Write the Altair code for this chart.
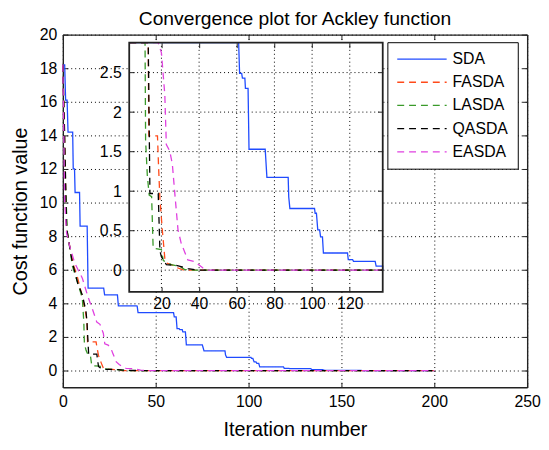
import altair as alt
import pandas as pd

FONT = "Liberation Sans"

SERIES = ["SDA", "FASDA", "LASDA", "QASDA", "EASDA"]
COLORS = ["#1f4bff", "#ff4a1a", "#3a9a2a", "#000000", "#e040e0"]
DASHES = [[1, 0], [7, 5], [7, 5], [7, 5], [7, 5]]

# ---- series (iteration, cost) ----
sda_iter = [0, 1, 1.5, 2.3, 2.8, 5.3, 5.6, 6.3, 6.6, 9.0, 9.3, 13.1, 13.6, 22, 22.5, 29.4, 29.9, 40,
            40.5, 59.6, 60, 61, 61.5, 62.6, 63, 64.3, 64.6, 66, 66.5, 75.1, 76, 87.3, 87.6, 88.2,
            101.3, 101.6, 102.3, 103, 104, 104.5, 105.5, 106, 118.8, 119.2, 121.5, 122, 133.5, 134,
            140, 141, 160, 161, 200]
sda_cost = [18.2, 18.2, 16.1, 16.1, 14.2, 14.2, 12.0, 12.0, 10.6, 10.6, 8.6, 8.6, 4.9, 4.9, 4.5, 4.5,
            3.85, 3.85, 3.45, 3.45, 3.2, 3.2, 2.49, 2.49, 2.43, 2.43, 2.3, 2.3, 1.53, 1.53, 1.175,
            1.175, 0.925, 0.78, 0.78, 0.72, 0.72, 0.51, 0.51, 0.42, 0.42, 0.217, 0.217, 0.134,
            0.134, 0.11, 0.11, 0.05, 0.05, 0.01, 0.01, 0.0, 0.0]

fasda_iter = [0, 1, 2, 4, 6, 8, 10, 12, 13, 13.3, 17.9, 18.5, 19.2, 20.5, 21.8, 22.6, 27.9, 28.5, 32, 200]
fasda_cost = [18.2, 13.5, 8.5, 7.2, 6.2, 5.5, 4.6, 3.6, 2.95, 1.7, 1.7, 1.3, 0.9, 0.5, 0.15, 0.09, 0.05,
              0.03, 0.0, 0.0]

lasda_iter = [0, 1, 2.5, 5.2, 7.8, 10.5, 11.3, 11.6, 12.5, 13.5, 14.8, 15.6, 20, 21, 25.2, 29.6, 32.2,
              35, 200]
lasda_cost = [18.2, 12.0, 8.2, 6.2, 5.3, 4.3, 2.88, 1.64, 1.2, 0.95, 0.93, 0.28, 0.26, 0.12, 0.07, 0.05,
              0.01, 0.0, 0.0]

qasda_iter = [0, 1, 2, 5, 8, 10.5, 12.5, 13, 13.9, 18.3, 19.2, 20, 22.6, 27.9, 34, 40, 200]
qasda_cost = [18.2, 14.0, 8.5, 6.5, 5.2, 4.5, 3.5, 2.88, 0.97, 0.97, 0.24, 0.17, 0.07, 0.06, 0.02, 0.0,
              0.0]

easda_iter = [0, 1, 2, 3.7, 6.4, 10.5, 13.5, 16.1, 18.3, 20, 21.8, 22.6, 24.4, 25.8, 27, 28.8, 30.5,
              34, 37.5, 41.9, 44, 200]
easda_cost = [18.2, 10.1, 8.2, 7.4, 6.4, 5.5, 4.4, 3.6, 2.88, 2.75, 2.22, 1.59, 1.51, 1.34, 1.0, 0.51,
              0.34, 0.13, 0.11, 0.03, 0.0, 0.0]

# ---- axes / tick values ----
X_TICKS = [0, 50, 100, 150, 200, 250]
Y_TICKS = [0, 2, 4, 6, 8, 10, 12, 14, 16, 18, 20]
MAIN_XLIM = [0, 250]
MAIN_YLIM = [-1, 20]
INSET_X_TICKS = [20, 40, 60, 80, 100, 120]
INSET_Y_TICKS = [0, 0.5, 1, 1.5, 2, 2.5]
INSET_XLIM = [2.9, 137.5]
INSET_YLIM = [-0.275, 2.878]

# ---- layout (pixels) ----
W, H = 470, 357
IX0, IX1 = 67.2, 323.8      # inset left / right inside plot area
IY0, IY1 = 260.4, 8.2       # inset bottom / top inside plot area

rows = []
for name, xs, ys in [("SDA", sda_iter, sda_cost), ("FASDA", fasda_iter, fasda_cost),
                     ("LASDA", lasda_iter, lasda_cost), ("QASDA", qasda_iter, qasda_cost),
                     ("EASDA", easda_iter, easda_cost)]:
    for x, y in zip(xs, ys):
        rows.append({"series": name, "iter": x, "cost": y})
df = pd.DataFrame(rows)

main_x = alt.Scale(domain=MAIN_XLIM, nice=False, zero=False)
main_y = alt.Scale(domain=MAIN_YLIM, nice=False, zero=False)
ins_x = alt.Scale(domain=INSET_XLIM, range=[IX0, IX1], nice=False, zero=False, clamp=True)
ins_y = alt.Scale(domain=INSET_YLIM, range=[IY0, IY1], nice=False, zero=False, clamp=True)

legend = alt.Legend(title=None, orient="none", legendX=328.5, legendY=7.7, symbolType="stroke",
                    symbolSize=2500, symbolStrokeWidth=1.3, clipHeight=16, rowPadding=7.5,
                    padding=9, labelOffset=5, labelFontSize=16, labelFont=FONT, labelColor="black",
                    fillColor="white", strokeColor="black", cornerRadius=0)
color = alt.Color("series:N", scale=alt.Scale(domain=SERIES, range=COLORS), sort=SERIES, legend=legend)
dash = alt.StrokeDash("series:N", scale=alt.Scale(domain=SERIES, range=DASHES), sort=SERIES,
                      legend=legend)

label_style = dict(labelFont=FONT, labelFontSize=16, labelColor="black", labelFlush=False,
                   labelOverlap=False)
title_style = dict(titleFont=FONT, titleFontSize=20, titleFontWeight="normal", titleColor="black")

main_lines = alt.Chart(df).mark_line(strokeWidth=1.3).encode(
    x=alt.X("iter:Q", scale=main_x, axis=alt.Axis(
        orient="bottom", values=X_TICKS, title="Iteration number", grid=True, gridDash=[1, 3],
        gridColor="black", gridOpacity=1, ticks=False, domain=True, domainColor="#222",
        domainWidth=1.4, labelPadding=6, titlePadding=11, **label_style, **title_style)),
    y=alt.Y("cost:Q", scale=main_y, axis=alt.Axis(
        orient="left", values=Y_TICKS, title="Cost function value", grid=True, gridDash=[1, 3],
        gridColor="black", gridOpacity=1, ticks=False, domain=True, domainColor="#222",
        domainWidth=1.4, labelPadding=6, titlePadding=9, **label_style, **title_style)),
    color=color, strokeDash=dash, detail="series:N",
)


def tick_axis(orient, offset, values, domain=False, zindex=0):
    return alt.Axis(orient=orient, offset=offset, values=values, labels=False, ticks=True,
                    tickSize=5, tickColor="#222", tickWidth=1, domain=domain, domainColor="#222",
                    domainWidth=1.4, grid=False, title=None, zindex=zindex)


def xaxis_layer(values, scale, axis):
    return alt.Chart(pd.DataFrame({"t": values})).mark_point(opacity=0).encode(
        x=alt.X("t:Q", scale=scale, axis=axis))


def yaxis_layer(values, scale, axis):
    return alt.Chart(pd.DataFrame({"t": values})).mark_point(opacity=0).encode(
        y=alt.Y("t:Q", scale=scale, axis=axis))


main_axes = [
    xaxis_layer(X_TICKS, main_x, tick_axis("top", -H, X_TICKS)),
    xaxis_layer(X_TICKS, main_x, tick_axis("bottom", -H, X_TICKS, domain=True)),
    yaxis_layer(Y_TICKS, main_y, tick_axis("right", -W, Y_TICKS)),
    yaxis_layer(Y_TICKS, main_y, tick_axis("left", -W, Y_TICKS, domain=True)),
]

box = pd.DataFrame({"x0": [INSET_XLIM[0]], "x1": [INSET_XLIM[1]],
                    "y0": [INSET_YLIM[0]], "y1": [INSET_YLIM[1]]})

inset_bg = alt.Chart(box).mark_rect(fill="white").encode(
    x=alt.X("x0:Q", scale=ins_x, axis=None), x2="x1:Q",
    y=alt.Y("y0:Q", scale=ins_y, axis=None), y2="y1:Q")

vgrid = pd.DataFrame({"t": INSET_X_TICKS, "y0": INSET_YLIM[0], "y1": INSET_YLIM[1]})
hgrid = pd.DataFrame({"t": INSET_Y_TICKS, "x0": INSET_XLIM[0], "x1": INSET_XLIM[1]})
inset_vgrid = alt.Chart(vgrid).mark_rule(color="black", strokeWidth=1, strokeDash=[1, 3]).encode(
    x=alt.X("t:Q", scale=ins_x, axis=None),
    y=alt.Y("y0:Q", scale=ins_y, axis=None), y2="y1:Q")
inset_hgrid = alt.Chart(hgrid).mark_rule(color="black", strokeWidth=1, strokeDash=[1, 3]).encode(
    y=alt.Y("t:Q", scale=ins_y, axis=None),
    x=alt.X("x0:Q", scale=ins_x, axis=None), x2="x1:Q")

inset_lines = alt.Chart(df).mark_line(strokeWidth=1.3).encode(
    x=alt.X("iter:Q", scale=ins_x, axis=None),
    y=alt.Y("cost:Q", scale=ins_y, axis=None),
    color=color, strokeDash=dash, detail="series:N",
)

inset_frame = alt.Chart(box).mark_rect(fillOpacity=0, stroke="#222", strokeWidth=1.8).encode(
    x=alt.X("x0:Q", scale=ins_x, axis=None), x2="x1:Q",
    y=alt.Y("y0:Q", scale=ins_y, axis=None), y2="y1:Q")

inset_axes = [
    xaxis_layer(INSET_X_TICKS, ins_x, alt.Axis(
        orient="bottom", offset=IY0 - H, values=INSET_X_TICKS, ticks=False, domain=False,
        grid=False, title=None, labelPadding=4, zindex=1, **label_style)),
    yaxis_layer(INSET_Y_TICKS, ins_y, alt.Axis(
        orient="left", offset=-IX0, values=INSET_Y_TICKS, format="~g", ticks=False,
        domain=False, grid=False, title=None, labelPadding=8, zindex=1, **label_style)),
    xaxis_layer(INSET_X_TICKS, ins_x, tick_axis("top", -IY0, INSET_X_TICKS, zindex=1)),
    xaxis_layer(INSET_X_TICKS, ins_x, tick_axis("bottom", IY1 - H, INSET_X_TICKS, zindex=1)),
    yaxis_layer(INSET_Y_TICKS, ins_y, tick_axis("right", IX0 - W, INSET_Y_TICKS, zindex=1)),
    yaxis_layer(INSET_Y_TICKS, ins_y, tick_axis("left", -IX1, INSET_Y_TICKS, zindex=1)),
]

chart = alt.layer(
    main_lines, *main_axes, inset_bg, inset_vgrid, inset_hgrid, inset_lines, inset_frame,
    *inset_axes
).resolve_scale(x="independent", y="independent").resolve_axis(
    x="independent", y="independent"
).properties(
    width=W, height=H,
    autosize=alt.AutoSizeParams(type="none"),
    padding={"left": 55.5, "top": 24.3, "right": 14, "bottom": 52},
    background="white",
    title=alt.TitleParams("Convergence plot for Ackley function", font=FONT, fontSize=19.5,
                          fontWeight="normal", color="black", anchor="middle", offset=10, dy=13),
).configure_view(strokeWidth=0)

chart.save("out.html", embed_options={"renderer": "svg", "actions": False})
